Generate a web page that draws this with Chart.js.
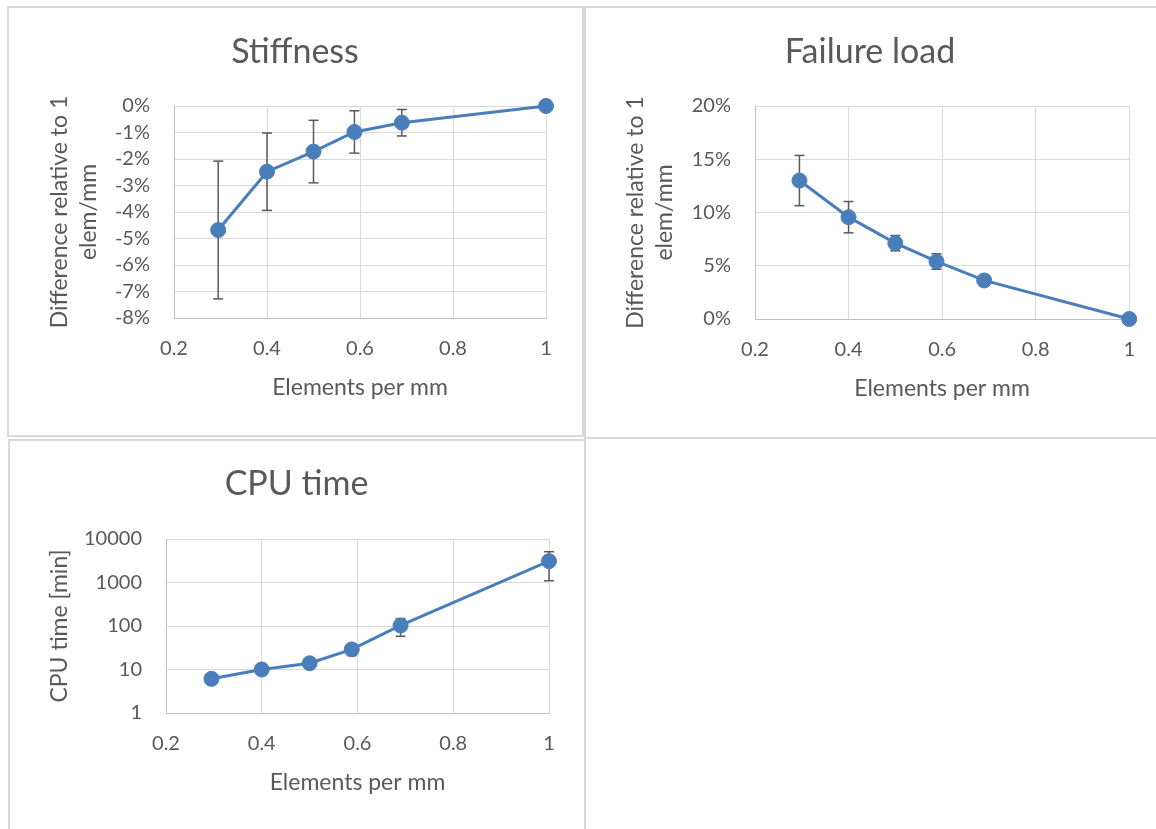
<!DOCTYPE html>
<html><head><meta charset="utf-8">
<script src="https://cdn.jsdelivr.net/npm/chart.js@4.4.1/dist/chart.umd.min.js"></script>
<style>
body{margin:0;background:#fff;width:1156px;height:829px;overflow:hidden;position:relative;}
.box{position:absolute;border:2px solid #d9d9d9;box-sizing:border-box;}
canvas{position:absolute;}
</style></head><body>
<div class="box" style="left:7px;top:6px;width:577px;height:431px"></div>
<div class="box" style="left:584px;top:6px;width:580px;height:433px"></div>
<div class="box" style="left:8px;top:439px;width:578px;height:400px"></div>
<canvas id="c1" width="574" height="428" style="left:8px;top:8px"></canvas>
<canvas id="c2" width="572" height="430" style="left:584px;top:8px"></canvas>
<canvas id="c3" width="577" height="389" style="left:8px;top:440px"></canvas>
<script>
// ---- data ----
const xValues = [0.295, 0.4, 0.5, 0.588, 0.69, 1];
const stiffness = [-0.0468, -0.0248, -0.0172, -0.0098, -0.0063, 0];
const stiffnessErr = [0.026, 0.0146, 0.0118, 0.008, 0.005, 0];
const failureLoad = [0.130, 0.0956, 0.0712, 0.054, 0.0362, 0];
const failureErr = [0.0236, 0.0147, 0.0072, 0.0073, 0.003, 0];
const cpuTime = [6.1, 10, 13.9, 29, 103, 3100];
const cpuErr = [0.5, 1, 1.5, 8, 45, 2000];
const xTicks = [0.2, 0.4, 0.6, 0.8, 1];
const stiffTicks = [0, -0.01, -0.02, -0.03, -0.04, -0.05, -0.06, -0.07, -0.08];
const failTicks = [0, 0.05, 0.10, 0.15, 0.20];
const cpuTicks = [1, 10, 100, 1000, 10000];
const xTitle = 'Elements per mm';
const diffTitle = ['Difference relative to 1', 'elem/mm'];
const cpuTitle = 'CPU time [min]';

const FONT = 'Lato, "Open Sans", sans-serif';
const TXT = '#595959';
const BLUE = '#4a7ebb';
const GRID = '#d9d9d9';

function pct(v){ return Math.round(v*100) + '%'; }

function makeChart(id, cfg){
  const c = document.getElementById(id);
  const W = c.width, H = c.height, p = cfg.plot;
  const R = W - p.r;
  const tS = 34, tLH = tS*1.2, tPadTop = 44 - tLH/2;
  const aS = 23, aLHf = 1.25, aLH = aS*aLHf;
  const kS = 20, kLH = kS*1.0;
  const main = {
    data: xValues.map((x,i)=>({x, y: cfg.values[i]})),
    borderColor: BLUE, backgroundColor: BLUE, borderWidth: 3,
    pointRadius: 7.5, pointHoverRadius: 7.5, pointBackgroundColor: BLUE,
    pointBorderColor: BLUE, pointBorderWidth: 1, clip: false, tension: 0
  };
  const errs = xValues.map((x,i)=>({x, y: cfg.values[i], e: cfg.errors[i]}))
    .filter(d=>d.e>0)
    .map(d=>({
      data: [{x: d.x, y: d.y - d.e}, {x: d.x, y: d.y + d.e}],
      borderColor: TXT, borderWidth: 1.5, pointStyle: 'line', pointRadius: 5,
      pointHoverRadius: 5, pointBorderColor: TXT, pointBorderWidth: 1.5,
      pointBackgroundColor: TXT, clip: false, showLine: true
    }));
  const yAxis = {
    type: cfg.yType, min: cfg.yMin, max: cfg.yMax,
    afterBuildTicks: s => { s.ticks = cfg.yTicks.map(v=>({value:v})); },
    afterFit: s => { s.width = p.l - R; },
    grid: {color: GRID, drawTicks: false, lineWidth: 1},
    border: {color: '#bfbfbf', width: 1},
    ticks: {color: TXT, font: {family: FONT, size: kS, lineHeight: 1.0}, padding: 24,
      autoSkip: false, callback: cfg.yFmt},
    title: {display: true, text: cfg.yTitle, color: TXT,
      font: {family: FONT, size: aS, lineHeight: aLHf}, padding: {top: cfg.yTitleX - R - aLH/2, bottom: 0}}
  };
  new Chart(c, {
    type: 'line',
    data: {datasets: [main, ...errs]},
    options: {
      responsive: false, animation: false, events: [],
      layout: {padding: {left: R, top: 0, right: R, bottom: 0}},
      plugins: {
        legend: {display: false}, tooltip: {enabled: false},
        title: {display: true, text: cfg.title, color: TXT,
          font: {family: FONT, size: tS, weight: 'normal', lineHeight: 1.2},
          padding: {top: tPadTop, bottom: p.t - tLH - tPadTop}}
      },
      scales: {
        x: {
          type: 'linear', min: 0.2, max: 1,
          afterBuildTicks: s => { s.ticks = xTicks.map(v=>({value:v})); },
          afterFit: s => { s.height = H - p.b; },
          grid: {color: GRID, drawTicks: false, lineWidth: 1},
          border: {color: '#bfbfbf', width: 1},
          ticks: {color: TXT, font: {family: FONT, size: kS, lineHeight: 1.0},
            padding: 31 - kLH/2, autoSkip: false, maxRotation: 0,
            callback: v => String(Number(v.toFixed(1)))},
          title: {display: true, text: xTitle, color: TXT,
            font: {family: FONT, size: aS, lineHeight: aLHf},
            padding: {top: 0, bottom: H - p.b - 70 - aLH/2}}
        },
        y: yAxis
      }
    }
  });
}

makeChart('c1', {
  title: 'Stiffness', values: stiffness, errors: stiffnessErr,
  yType: 'linear', yMin: -0.08, yMax: 0, yTicks: stiffTicks, yFmt: pct,
  yTitle: diffTitle, yTitleX: 52, plot: {l: 166, t: 98, r: 538, b: 310}
});
makeChart('c2', {
  title: 'Failure load', values: failureLoad, errors: failureErr,
  yType: 'linear', yMin: 0, yMax: 0.2, yTicks: failTicks, yFmt: pct,
  yTitle: diffTitle, yTitleX: 52, plot: {l: 171, t: 98, r: 546, b: 311}
});
makeChart('c3', {
  title: 'CPU time', values: cpuTime, errors: cpuErr,
  yType: 'logarithmic', yMin: 1, yMax: 10000, yTicks: cpuTicks, yFmt: v => String(v),
  yTitle: cpuTitle, yTitleX: 52, plot: {l: 158, t: 99, r: 541, b: 273}
});
</script>
</body></html>
